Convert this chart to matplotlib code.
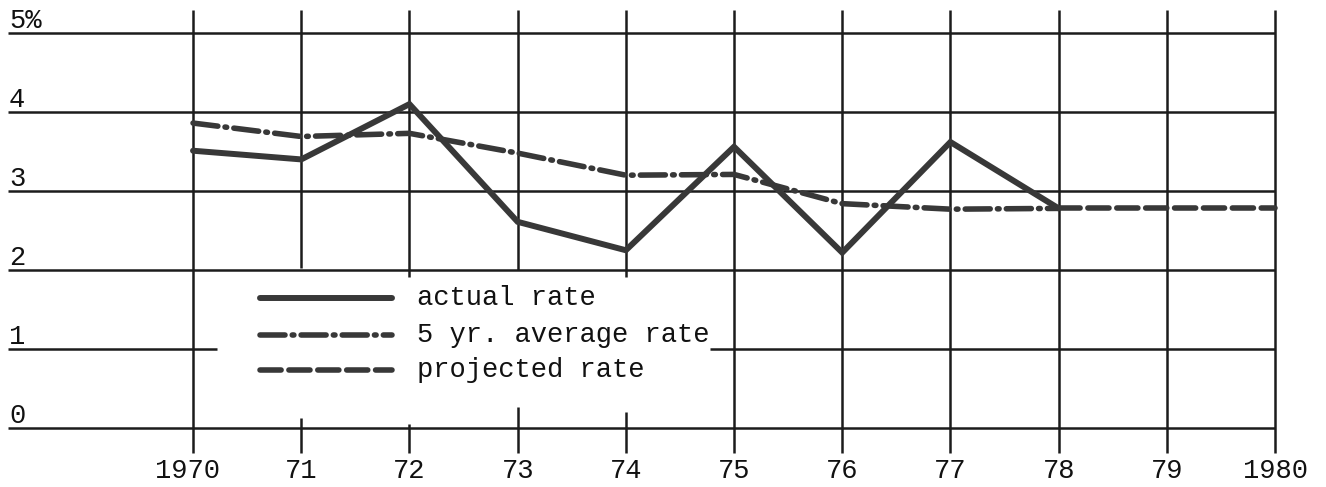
import matplotlib
matplotlib.use("Agg")
import matplotlib.pyplot as plt

# ---- data ----
years = [1970, 1971, 1972, 1973, 1974, 1975, 1976, 1977, 1978, 1979, 1980]
year_labels = ["1970", "71", "72", "73", "74", "75", "76", "77", "78", "79", "1980"]
actual_years = [1970, 1971, 1972, 1973, 1974, 1975, 1976, 1977, 1978]
actual_rate = [3.51, 3.40, 4.10, 2.61, 2.25, 3.56, 2.22, 3.62, 2.78]
avg_years = [1970, 1971, 1972, 1973, 1974, 1975, 1976, 1977, 1978]
avg_rate = [3.86, 3.69, 3.73, 3.48, 3.20, 3.21, 2.84, 2.77, 2.78]
proj_years = [1978, 1979, 1980]
proj_rate = [2.78, 2.78, 2.78]
y_values = [0, 1, 2, 3, 4, 5]
y_labels = ["0", "1", "2", "3", "4", "5%"]
legend_labels = ["actual rate", "5 yr. average rate", "projected rate"]

FONT = "Liberation Mono"
GRID = "#1c1c1c"
INK = "#383838"
TXT = "#111111"

fig = plt.figure(figsize=(13.26, 4.87), dpi=100)
ax = fig.add_axes([0, 0, 1, 1])
ax.set_xlim(1968.216, 1980.471)
ax.set_ylim(-0.747, 5.418)
ax.axis("off")

x_left = 1968.29
glw = 1.8

# horizontal grid lines
for v, lab in zip(y_values, y_labels):
    if v == 1:
        ax.hlines(v, x_left, 1970.22, color=GRID, lw=glw)
        ax.hlines(v, 1974.78, years[-1], color=GRID, lw=glw)
    else:
        ax.hlines(v, x_left, years[-1], color=GRID, lw=glw)
    ax.text(x_left + 0.01, v + 0.06, lab, fontsize=19.5,
            family=FONT, ha="left", va="baseline", color=TXT)

# vertical grid lines (some interrupted by the legend)
top, bottom = 5.29, -0.32
breaks = {1971: (2.03, 0.13), 1972: (1.91, 0.05), 1973: (2.0, 0.27), 1974: (1.91, 0.20)}
for yr, lab in zip(years, year_labels):
    if yr in breaks:
        up, lo = breaks[yr]
        ax.vlines(yr, up, top, color=GRID, lw=glw)
        ax.vlines(yr, bottom, lo, color=GRID, lw=glw)
    else:
        ax.vlines(yr, bottom, top, color=GRID, lw=glw)
    xoff = -0.05 if yr == 1970 else 0.0
    ax.text(yr + xoff, -0.545, lab, fontsize=19.5, family=FONT, ha="center",
            va="center", color=TXT)

# data lines
st_actual = dict(color=INK, lw=4.3, solid_capstyle="round", solid_joinstyle="miter")
st_avg = dict(color=INK, lw=4.0, linestyle=(0, (4.5, 1.3, 0.3, 1.3)), dash_capstyle="round")
st_proj = dict(color=INK, lw=4.0, linestyle=(0, (3.8, 1.4)), dash_capstyle="round")

ax.plot(avg_years, avg_rate, **st_avg)
ax.plot(proj_years, proj_rate, **st_proj)
ax.plot(actual_years, actual_rate, **st_actual)

# legend (drawn manually)
leg_y = [1.646, 1.177, 0.734]
for ly, lab, st in zip(leg_y, legend_labels, [st_actual, st_avg, st_proj]):
    ax.plot([1970.62, 1971.84], [ly, ly], **st)
    ax.text(1972.07, ly, lab, fontsize=19.5, family=FONT, ha="left",
            va="center", color=TXT)

fig.savefig("out.png", dpi=100)
